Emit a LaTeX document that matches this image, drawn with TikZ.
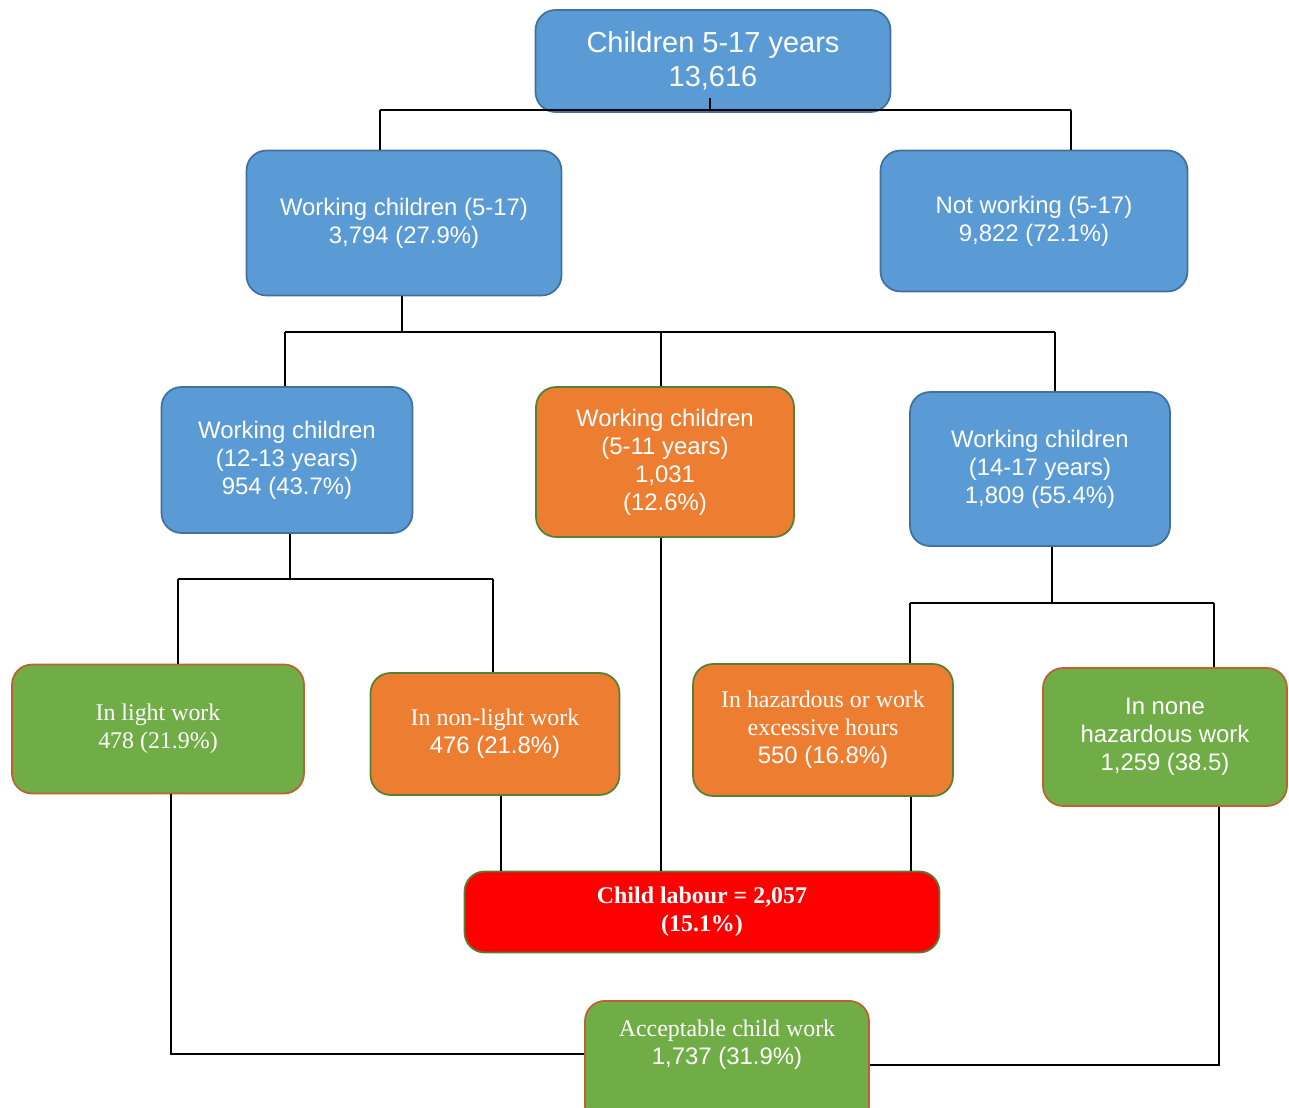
\documentclass[tikz,border=0pt]{standalone}
\usepackage{fontspec}
\setmainfont{Liberation Sans}
\newfontfamily\tnr{Liberation Serif}
\definecolor{boxblue}{HTML}{5B9BD5}
\definecolor{edgeblue}{HTML}{41719C}
\definecolor{boxorange}{HTML}{ED7D31}
\definecolor{edgegreen}{HTML}{548235}
\definecolor{boxgreen}{HTML}{70AD47}
\definecolor{edgebrown}{HTML}{BF6030}

\begin{document}
\begin{tikzpicture}[x=0.02cm,y=-0.02cm,font=\fontsize{13.6}{15.9}\selectfont,
    box/.style={rounded corners=0.4cm,line width=1pt,align=center,text=white,inner sep=2pt},
    bluebox/.style={box,fill=boxblue,draw=edgeblue},
    orangebox/.style={box,fill=boxorange,draw=edgegreen},
    greenbox/.style={box,fill=boxgreen,draw=edgebrown},
    link/.style={line width=1.3pt,black}]
  \useasboundingbox (0,0) rectangle (1289,1108);
  % boxes
  \node[bluebox,minimum width=7.1cm,minimum height=2.04cm,font=\fontsize{16.5}{19.3}\selectfont] (top) at (713,61) {Children 5-17 years\\13,616};
  \node[bluebox,minimum width=6.3cm,minimum height=2.9cm] (wc517) at (404,223) {Working children (5-17)\\3,794 (27.9\%)};
  \node[bluebox,minimum width=6.14cm,minimum height=2.82cm] (notw) at (1034,221) {Not working (5-17)\\9,822 (72.1\%)};
  \node[bluebox,minimum width=5.02cm,minimum height=2.92cm] (wc1213) at (287,460) {Working children\\(12-13 years)\\954 (43.7\%)};
  \node[orangebox,minimum width=5.16cm,minimum height=3cm] (wc511) at (665,462) {Working children\\(5-11 years)\\1,031\\(12.6\%)};
  \node[bluebox,minimum width=5.2cm,minimum height=3.08cm] (wc1417) at (1040,469) {Working children\\(14-17 years)\\1,809 (55.4\%)};
  \node[greenbox,minimum width=5.84cm,minimum height=2.58cm] (light) at (158,729) {\tnr In light work\\\tnr 478 (21.9\%)};
  \node[orangebox,minimum width=4.98cm,minimum height=2.44cm] (nonlight) at (495,734) {\tnr In non-light work\\476 (21.8\%)};
  \node[orangebox,minimum width=5.2cm,minimum height=2.64cm] (hazard) at (823,730) {\tnr In hazardous or work\\\tnr excessive hours\\550 (16.8\%)};
  \node[greenbox,minimum width=4.88cm,minimum height=2.76cm] (nonehaz) at (1165,737) {In none\\hazardous work\\1,259 (38.5)};
  \node[box,fill=red,draw=edgegreen,minimum width=9.5cm,minimum height=1.62cm] (labour) at (702,912) {\tnr\bfseries Child labour = 2,057\\\tnr\bfseries (15.1\%)};
  \node[greenbox,anchor=north,minimum width=5.68cm,inner ysep=0.38cm,text depth=0.86cm] (accept) at (727,1000) {\tnr Acceptable child work\\1,737 (31.9\%)};
  % connectors
  \coordinate (b1l) at (380,110); \coordinate (b1r) at (1071,110); \coordinate (b1m) at (710,110);
  \draw[link] ([yshift=0.3cm]b1m |- top.south) -- (b1m);
  \draw[link] (b1l) -- (b1r);
  \draw[link] (b1l) -- (b1l |- wc517.north);
  \draw[link] (b1r) -- (b1r |- notw.north);
  \coordinate (b2l) at (285,332); \coordinate (b2r) at (1055,332); \coordinate (b2m) at (661,332); \coordinate (b2t) at (402,332);
  \draw[link] (b2t |- wc517.south) -- (b2t);
  \draw[link] (b2l) -- (b2r);
  \draw[link] (b2l) -- (b2l |- wc1213.north);
  \draw[link] (b2m) -- (b2m |- wc511.north);
  \draw[link] (b2r) -- (b2r |- wc1417.north);
  \coordinate (b3l) at (178,579); \coordinate (b3r) at (493,579); \coordinate (b3t) at (290,579);
  \draw[link] (b3t |- wc1213.south) -- (b3t);
  \draw[link] (b3l) -- (b3r);
  \draw[link] (b3l) -- (b3l |- light.north);
  \draw[link] (b3r) -- (b3r |- nonlight.north);
  \coordinate (b4l) at (910,603); \coordinate (b4r) at (1214,603); \coordinate (b4t) at (1052,603);
  \draw[link] (b4t |- wc1417.south) -- (b4t);
  \draw[link] (b4l) -- (b4r);
  \draw[link] (b4l) -- (b4l |- hazard.north);
  \draw[link] (b4r) -- (b4r |- nonehaz.north);
  \foreach \x/\src in {501/nonlight,661/wc511,911/hazard}{
    \coordinate (l\src) at (\x,872);
    \draw[link] (l\src |- \src.south) -- (l\src |- labour.north);}
  \coordinate (a1) at (171,1054); \coordinate (a2) at (1219,1065);
  \draw[link] (a1 |- light.south) -- (a1) -- (a1 -| accept.west);
  \draw[link] (a2 |- nonehaz.south) -- (a2) -- (a2 -| accept.east);
\end{tikzpicture}
\end{document}
